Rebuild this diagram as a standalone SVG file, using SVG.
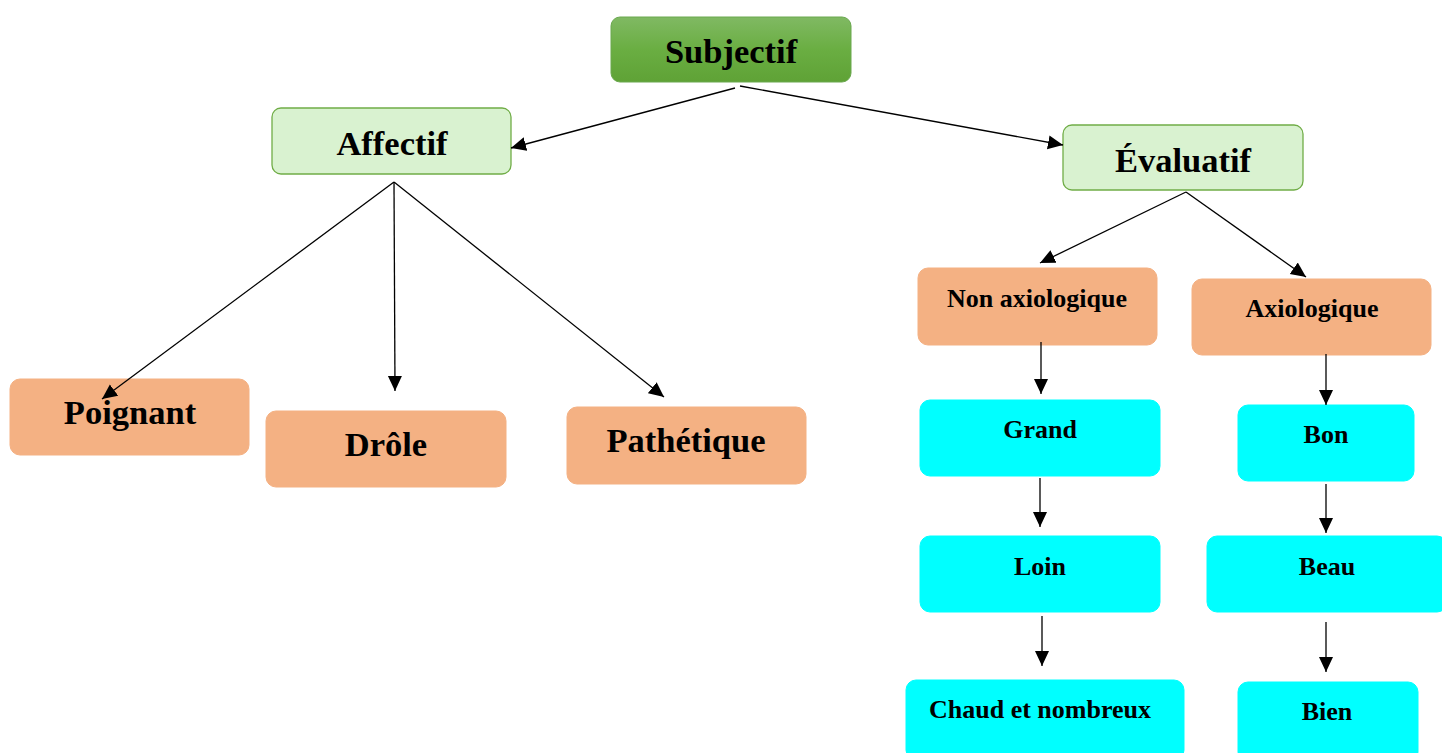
<svg xmlns="http://www.w3.org/2000/svg" width="1442" height="753" viewBox="0 0 1442 753">
<defs>
<linearGradient id="gGreen" x1="0" y1="0" x2="0" y2="1">
<stop offset="0" stop-color="#80b963"/>
<stop offset="0.5" stop-color="#6aae42"/>
<stop offset="1" stop-color="#5fa236"/>
</linearGradient>
<marker id="arr" markerUnits="userSpaceOnUse" markerWidth="16" markerHeight="16" viewBox="0 0 16 16" refX="15" refY="8" orient="auto">
<path d="M0,1 L15,8 L0,15 Z" fill="#000"/>
</marker>
</defs>
<style>
text{font-family:"Liberation Serif","Times New Roman",serif;font-weight:bold;fill:#000;text-anchor:middle}
.big{font-size:34.5px}
.sm{font-size:26px}
.top{fill:url(#gGreen);stroke:#6aa84f;stroke-width:1}
.lvl1{fill:#d9f2d0;stroke:#70ad47;stroke-width:1.3}
.org{fill:#f4b183;stroke:#f4b183}
.cy{fill:#00ffff;stroke:#00ffff}
.c line{stroke:#000;stroke-width:1.3;marker-end:url(#arr)}
</style>
<g id="subjectif"><rect class="top" x="611" y="17" width="240" height="65" rx="9"/><text class="big" x="731" y="63">Subjectif</text></g>
<g id="affectif"><rect class="lvl1" x="272" y="108" width="239" height="66" rx="9"/><text class="big" x="392" y="155">Affectif</text></g>
<g id="evaluatif"><rect class="lvl1" x="1063" y="125" width="240" height="65" rx="9"/><text class="big" x="1183" y="172">Évaluatif</text></g>
<g id="poignant"><rect class="org" x="10" y="379" width="239" height="76" rx="10"/><text class="big" x="130" y="424">Poignant</text></g>
<g id="drole"><rect class="org" x="266" y="411" width="240" height="76" rx="10"/><text class="big" x="386" y="456">Drôle</text></g>
<g id="pathetique"><rect class="org" x="567" y="407" width="239" height="77" rx="10"/><text class="big" x="686" y="452">Pathétique</text></g>
<g id="nonaxio"><rect class="org" x="918" y="268" width="239" height="77" rx="10"/><text class="sm" x="1037" y="307">Non axiologique</text></g>
<g id="axio"><rect class="org" x="1192" y="279" width="239" height="76" rx="10"/><text class="sm" x="1312" y="317">Axiologique</text></g>
<g id="grand"><rect class="cy" x="920" y="400" width="240" height="76" rx="10"/><text class="sm" x="1040" y="438">Grand</text></g>
<g id="bon"><rect class="cy" x="1238" y="405" width="176" height="76" rx="10"/><text class="sm" x="1326" y="443">Bon</text></g>
<g id="loin"><rect class="cy" x="920" y="536" width="240" height="76" rx="10"/><text class="sm" x="1040" y="575">Loin</text></g>
<g id="beau"><rect class="cy" x="1207" y="536" width="240" height="76" rx="10"/><text class="sm" x="1327" y="575">Beau</text></g>
<g id="chaud"><rect class="cy" x="906" y="680" width="278" height="80" rx="10"/><text class="sm" x="1040" y="718">Chaud et nombreux</text></g>
<g id="bien"><rect class="cy" x="1238" y="682" width="180" height="80" rx="10"/><text class="sm" x="1327" y="720">Bien</text></g>
<g class="c" id="connectors">
<line x1="735" y1="88" x2="511" y2="148"/>
<line x1="740" y1="86" x2="1063" y2="145"/>
<line x1="394" y1="182" x2="102" y2="399"/>
<line x1="394" y1="182" x2="395" y2="391"/>
<line x1="394" y1="182" x2="664" y2="397"/>
<line x1="1186" y1="192" x2="1040" y2="263"/>
<line x1="1186" y1="192" x2="1306" y2="277"/>
<line x1="1041" y1="342" x2="1041" y2="394"/>
<line x1="1326" y1="354" x2="1326" y2="405"/>
<line x1="1040" y1="478" x2="1040" y2="527"/>
<line x1="1326" y1="484" x2="1326" y2="533"/>
<line x1="1042" y1="616" x2="1042" y2="666"/>
<line x1="1326" y1="622" x2="1326" y2="672"/>
</g>
</svg>
